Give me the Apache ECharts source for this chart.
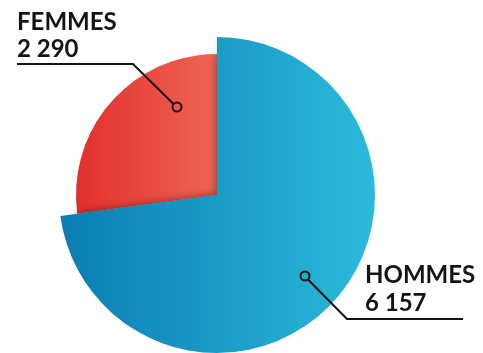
<!DOCTYPE html>
<html>
<head>
<meta charset="utf-8">
<script src="https://cdn.jsdelivr.net/npm/echarts@6/dist/echarts.min.js"></script>
<style>
  html, body { margin: 0; padding: 0; background: #ffffff; }
  #chart { width: 483px; height: 353px; }
</style>
</head>
<body>
<div id="chart"></div>
<script>
// Headcount split by sex
const categories = ['HOMMES', 'FEMMES'];
const values = [6157, 2290];

const CENTER = [217, 195];
const R_BIG = 158;   // HOMMES slice
const R_SMALL = 141; // FEMMES slice

const blueFill = {
  type: 'linear', x: 0, y: 0, x2: 1, y2: 0,
  colorStops: [{ offset: 0, color: '#0a7db1' }, { offset: 1, color: '#2cbadb' }]
};
const redFill = {
  type: 'linear', x: 0, y: 0, x2: 1, y2: 0,
  colorStops: [{ offset: 0, color: '#e22f2e' }, { offset: 1, color: '#ef6553' }]
};

function fmt(n) {
  return String(n).replace(/\B(?=(\d{3})+(?!\d))/g, ' ');
}

// Build one pie layer where only the slice at index `show` is visible
function layer(show, radius, fill, extraStyle) {
  return {
    type: 'pie',
    center: CENTER,
    radius: [0, radius],
    startAngle: 90,
    clockwise: true,
    silent: true,
    animation: false,
    label: { show: false },
    labelLine: { show: false },
    data: categories.map((name, i) => ({
      name,
      value: values[i],
      itemStyle: i === show
        ? Object.assign({ color: fill, borderWidth: 0 }, extraStyle || {})
        : { color: 'rgba(0,0,0,0)', borderWidth: 0 }
    }))
  };
}

const chart = echarts.init(document.getElementById('chart'), null, { renderer: 'canvas' });

const ink = '#141414';
function label(x, y, text) {
  return {
    type: 'text',
    z: 100,
    style: {
      x, y, text,
      fontFamily: 'Lato, "Noto Sans", sans-serif',
      fontSize: 24,
      fontWeight: 'bold',
      fill: ink,
      align: 'left',
      verticalAlign: 'middle'
    }
  };
}
function leader(points, cx, cy) {
  return [
    { type: 'polyline', z: 100, shape: { points },
      style: { stroke: ink, lineWidth: 2, fill: null } },
    { type: 'circle', z: 100, shape: { cx, cy, r: 4.5 },
      style: { stroke: ink, lineWidth: 2, fill: 'rgba(0,0,0,0)' } }
  ];
}

chart.setOption({
  backgroundColor: '#ffffff',
  series: [
    layer(1, R_SMALL, redFill),
    // darker copy under the large slice, casting its shade onto the small one
    layer(0, R_SMALL, blueFill, { shadowBlur: 10, shadowColor: 'rgba(60,0,0,0.55)' }),
    layer(0, R_BIG, blueFill)
  ],
  graphic: [
    // FEMMES callout
    ...leader([[17, 64], [133, 64], [173.5, 104]], 177, 107),
    label(17, 22, categories[1]),
    label(17, 49, fmt(values[1])),
    // HOMMES callout
    ...leader([[463, 319], [347, 319], [308, 279.5]], 305, 276),
    label(365, 275, categories[0]),
    label(365, 303, fmt(values[0]))
  ]
});
</script>
</body>
</html>
